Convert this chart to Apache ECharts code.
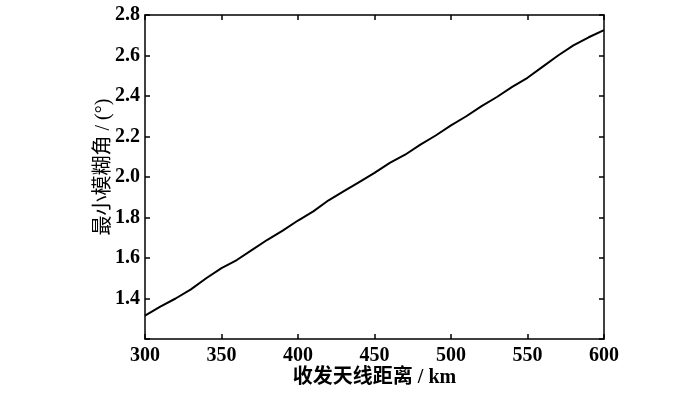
<!DOCTYPE html>
<html>
<head>
<meta charset="utf-8">
<script src="https://cdn.jsdelivr.net/npm/echarts@6/dist/echarts.min.js"></script>
<style>html,body{margin:0;padding:0;background:#fff;}#c{width:700px;height:396px;}</style>
</head>
<body>
<div id="c"></div>
<script>
var distances = [300,310,320,330,340,350,360,370,380,390,400,410,420,430,440,450,460,470,480,490,500,510,520,530,540,550,560,570,580,590,600];
var minAngle = [1.315,1.36,1.40,1.445,1.50,1.55,1.59,1.64,1.69,1.735,1.785,1.83,1.885,1.93,1.975,2.02,2.07,2.11,2.16,2.205,2.255,2.30,2.35,2.395,2.445,2.49,2.545,2.60,2.65,2.69,2.725];
var xName = '收发天线距离 / km';
var yName = '最小模糊角 / (°)';

var numFont = '"Liberation Serif","Noto Sans CJK SC",serif';
var cjkFont = '"Liberation Serif","Noto Sans CJK SC",serif';
var axisLine = {show:true, lineStyle:{color:'#000', width:1.5}};
var tick = {show:true, inside:true, length:5, lineStyle:{color:'#000', width:1.5}};

var chart = echarts.init(document.getElementById('c'));
chart.setOption({
  animation:false,
  backgroundColor:'#fff',
  grid:{left:145, right:96, top:15, bottom:57},
  xAxis:[{
    type:'value', min:300, max:600, interval:50, position:'bottom',
    name:xName, nameLocation:'middle', nameGap:29, nameMoveOverlap:false,
    nameTextStyle:{fontFamily:cjkFont, fontSize:20, fontWeight:'bold', color:'#000'},
    axisLine:axisLine, axisTick:tick, splitLine:{show:false},
    axisLabel:{fontFamily:numFont, fontSize:20, fontWeight:'bold', color:'#000', margin:7}
  },{
    type:'value', min:300, max:600, interval:50, position:'top',
    axisLine:axisLine, axisTick:tick, splitLine:{show:false},
    axisLabel:{show:false}
  }],
  yAxis:[{
    type:'value', min:1.2, max:2.8, interval:0.2, position:'left',
    name:yName, nameLocation:'middle', nameGap:31, nameRotate:90, nameMoveOverlap:false,
    nameTextStyle:{fontFamily:cjkFont, fontSize:20, color:'#000', padding:[0,0,0,20]},
    axisLine:axisLine, axisTick:tick, splitLine:{show:false},
    axisLabel:{fontFamily:numFont, fontSize:20, fontWeight:'bold', color:'#000', margin:5,
      formatter:function(v){ return v < 1.3 ? '' : v.toFixed(1); }}
  },{
    type:'value', min:1.2, max:2.8, interval:0.2, position:'right',
    axisLine:axisLine, axisTick:tick, splitLine:{show:false},
    axisLabel:{show:false}
  }],
  series:[{
    type:'line', xAxisIndex:0, yAxisIndex:0,
    data: distances.map(function(d,i){return [d, minAngle[i]];}),
    showSymbol:false, smooth:false,
    lineStyle:{color:'#000', width:2}
  }]
});
</script>
</body>
</html>
